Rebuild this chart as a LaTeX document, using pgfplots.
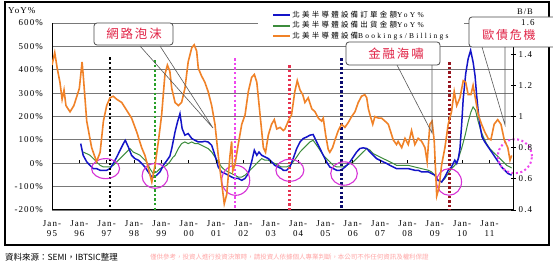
\documentclass[border=0pt]{standalone}
\usepackage{pgfplots}
\usepackage{pgfplotstable}
\pgfplotsset{compat=1.18}
\usepackage{fontspec}
\setmainfont{Liberation Serif}
\newfontfamily\tickfont[LetterSpace=12]{Liberation Serif}
\newfontfamily\cjk{Noto Sans CJK TC}
\newfontfamily\legcjk[LetterSpace=30]{Noto Sans CJK TC}
\newfontfamily\leglat[LetterSpace=30]{Liberation Serif}
\newfontfamily\callfont[LetterSpace=15]{Noto Sans CJK TC}
\definecolor{cblue}{RGB}{20,20,200}
\definecolor{cgreen}{RGB}{60,140,60}
\definecolor{corange}{RGB}{240,130,40}
\definecolor{cmag}{RGB}{215,50,215}
\definecolor{cred}{RGB}{225,35,70}
\definecolor{gridc}{RGB}{120,120,120}
\definecolor{cnavy}{RGB}{10,10,110}
\definecolor{cmaroon}{RGB}{150,20,30}
\definecolor{cdgreen}{RGB}{40,160,40}
\definecolor{cpink}{RGB}{238,70,238}
\definecolor{cdred}{RGB}{230,50,80}

\pgfplotstableread{
x y
1.05 84
1.14 34
1.27 6
1.39 -9
1.51 -23
1.63 -23
1.76 -30
1.88 -30
2.00 -30
2.12 -23
2.24 -1
2.37 27
2.49 56
2.61 84
2.68 98
2.79 70
2.91 34
3.03 20
3.16 13
3.28 -1
3.40 -16
3.52 -37
3.65 -59
3.73 -59
3.83 -51
3.95 -37
4.07 -9
4.19 10
4.31 30
4.38 63
4.50 134
4.59 177
4.68 212
4.76 148
4.86 120
4.98 127
5.11 106
5.23 98
5.35 91
5.47 91
5.59 94
5.71 91
5.84 77
5.96 34
6.08 -16
6.20 -37
6.33 -44
6.45 -51
6.57 -59
6.69 -65
6.81 -65
6.94 -73
7.06 -65
7.18 -44
7.30 6
7.40 56
7.49 34
7.57 48
7.67 34
7.79 27
7.91 20
8.03 6
8.15 -9
8.27 -16
8.39 -23
8.46 -30
8.58 -30
8.70 -16
8.82 20
8.95 63
9.07 91
9.19 106
9.31 112
9.43 120
9.55 123
9.68 91
9.80 63
9.92 34
10.04 6
10.16 -16
10.29 -23
10.41 -30
10.53 -30
10.65 -23
10.78 -9
10.90 6
11.02 27
11.14 48
11.26 63
11.38 66
11.51 63
11.63 48
11.75 34
11.87 20
11.99 13
12.11 6
12.24 -1
12.36 -9
12.48 -16
12.60 -23
12.79 -23
13.03 -23
13.27 -30
13.39 -30
13.52 -37
13.76 -37
13.88 -44
14.00 -51
14.12 -73
14.25 -80
14.37 -59
14.49 -30
14.61 -16
14.73 13
14.80 -1
14.86 20
14.92 63
14.98 162
15.04 277
15.13 383
15.22 447
15.31 483
15.40 433
15.47 376
15.53 291
15.59 219
15.65 162
15.73 112
15.83 91
15.95 70
16.08 48
16.20 27
16.32 6
16.44 -16
16.56 -30
16.68 -44
16.81 -51
}\orders

\pgfplotstableread{
x y
1.14 48
1.27 41
1.39 34
1.51 20
1.63 6
1.76 -9
1.88 -16
2.00 -16
2.12 -16
2.24 -9
2.37 6
2.49 20
2.61 34
2.73 48
2.85 63
2.97 48
3.10 41
3.22 34
3.34 20
3.46 6
3.58 -23
3.70 -44
3.83 -37
3.95 -23
4.07 -16
4.19 -9
4.31 6
4.42 25
4.50 34
4.62 63
4.74 84
4.86 91
4.98 84
5.11 91
5.23 84
5.35 84
5.47 77
5.59 70
5.71 63
5.84 48
5.96 27
6.08 6
6.20 -16
6.33 -30
6.45 -37
6.57 -44
6.69 -51
6.81 -59
6.94 -59
7.06 -51
7.18 -37
7.30 -23
7.42 -9
7.54 6
7.67 20
7.79 13
7.91 13
8.03 6
8.15 -1
8.27 -9
8.39 -16
8.58 -16
8.70 -9
8.82 6
8.95 27
9.07 48
9.19 63
9.31 77
9.43 91
9.55 98
9.68 77
9.80 56
9.92 34
10.04 20
10.16 6
10.29 -9
10.41 -16
10.65 -16
10.78 -9
10.90 -1
11.02 6
11.14 20
11.26 34
11.38 48
11.51 63
11.63 56
11.75 41
11.87 34
11.99 27
12.11 20
12.24 13
12.36 6
12.48 -1
12.60 -9
12.79 -9
13.03 -9
13.27 -16
13.52 -23
13.76 -30
13.88 -37
14.00 -51
14.12 -73
14.25 -80
14.37 -65
14.49 -44
14.61 -23
14.73 -9
14.86 20
14.98 63
15.11 120
15.22 177
15.32 219
15.40 241
15.49 226
15.59 177
15.70 134
15.80 106
15.89 84
16.01 63
16.13 48
16.26 34
16.38 20
16.50 6
16.63 -9
16.75 -16
16.81 -20
}\shipments

\pgfplotstableread{
x y
0.00 1.33
0.10 1.41
0.19 1.31
0.29 1.22
0.37 1.11
0.44 1.17
0.51 1.07
0.66 1.03
0.80 1.07
1.00 1.18
1.10 1.35
1.14 1.27
1.27 0.97
1.45 0.80
1.63 0.71
1.76 0.77
1.88 0.97
2.00 1.07
2.12 1.12
2.24 1.13
2.37 1.11
2.55 1.09
2.73 1.04
2.91 0.99
3.10 0.90
3.28 0.80
3.40 0.75
3.52 0.67
3.65 0.58
3.77 0.69
3.89 0.84
4.01 1.01
4.13 1.27
4.22 1.33
4.31 1.29
4.38 1.18
4.50 1.09
4.62 1.07
4.74 1.09
4.86 1.18
4.98 1.35
5.11 1.44
5.20 1.46
5.29 1.42
5.35 1.31
5.47 1.26
5.59 1.22
5.71 1.16
5.84 1.07
5.96 0.95
6.08 0.75
6.20 0.58
6.30 0.44
6.39 0.50
6.51 0.75
6.57 0.84
6.61 0.65
6.69 0.69
6.81 0.82
6.94 0.95
7.06 1.01
7.18 1.16
7.30 1.25
7.40 1.27
7.49 1.22
7.61 1.01
7.73 0.80
7.81 0.77
7.91 0.88
8.03 0.95
8.13 0.98
8.22 0.92
8.34 0.93
8.46 0.91
8.52 0.92
8.64 0.97
8.76 1.01
8.88 1.16
8.97 1.23
9.07 1.17
9.17 1.14
9.25 1.09
9.37 1.12
9.50 1.05
9.62 1.03
9.74 0.99
9.86 0.97
9.92 0.99
10.01 0.88
10.10 0.79
10.16 0.77
10.26 0.80
10.35 0.85
10.47 0.91
10.59 0.95
10.71 0.93
10.83 0.96
10.96 1.00
11.08 1.03
11.20 1.09
11.32 1.13
11.44 1.14
11.51 1.12
11.57 1.05
11.63 1.01
11.73 0.95
11.81 1.00
11.93 0.99
12.05 0.99
12.18 0.97
12.30 0.95
12.48 0.85
12.60 0.82
12.66 0.84
12.79 0.80
12.91 0.86
13.03 0.82
13.15 0.91
13.27 0.82
13.39 0.86
13.52 0.84
13.64 0.80
13.72 0.71
13.82 0.95
13.90 0.97
13.98 0.84
14.07 0.49
14.15 0.54
14.25 0.69
14.37 0.80
14.49 0.95
14.61 1.03
14.71 1.16
14.80 1.07
14.92 1.12
15.04 1.23
15.13 1.22
15.22 1.14
15.32 1.14
15.40 1.20
15.59 1.01
15.71 0.95
15.83 0.90
15.95 0.86
16.05 0.85
16.17 0.95
16.30 0.98
16.42 0.95
16.54 0.85
16.67 0.80
16.75 0.72
16.81 0.75
}\bookbill

\begin{document}
\begin{tikzpicture}
\useasboundingbox (0,0) rectangle (553bp,266bp);
\fill[white] (0,0) rectangle (553bp,266bp);
\draw[line width=2bp] (5bp,21bp) rectangle (549bp,264bp);

\begin{axis}[
  at={(52bp,56bp)}, anchor=south west,
  scale only axis, width=461bp, height=187bp,
  xmin=0, xmax=16.86, ymin=-200, ymax=600,
  clip=false,
  axis x line*=bottom, axis y line*=left,
  axis line style={-, black, line width=1bp},
  ytick={-200,-100,0,100,200,300,400,500,600},
  yticklabels={-200\%,-100\%,0\%,100\%,200\%,300\%,400\%,500\%,600\%},
  ymajorgrids, major grid style={gridc, line width=0.9bp},
  ytick style={draw=none},
  xtick={0,1,...,16},
  xticklabels={{Jan-\\95},{Jan-\\96},{Jan-\\97},{Jan-\\98},{Jan-\\99},{Jan-\\00},{Jan-\\01},{Jan-\\02},{Jan-\\03},{Jan-\\04},{Jan-\\05},{Jan-\\06},{Jan-\\07},{Jan-\\08},{Jan-\\09},{Jan-\\10},{Jan-\\11}},
  xtick style={draw=none},
  xticklabel style={align=center, font=\tickfont\fontsize{9}{10.5}\selectfont, inner sep=0pt, yshift=-10bp},
  yticklabel style={font=\tickfont\fontsize{9}{10}\selectfont, inner sep=0pt, xshift=-9bp},
]
\addplot[cgreen, line width=1bp] table[x=x,y=y] {\shipments};
\addplot[cblue, line width=1.5bp] table[x=x,y=y] {\orders};
\pgfplotsinvokeforeach{1,...,16}{\draw[black, line width=0.8bp] (axis cs:#1,0) -- ++(0pt,3bp);}
% event lines
\draw[black, line width=2.8bp, dash pattern=on 2.3bp off 2.3bp] (axis cs:2.12,453) -- (axis cs:2.12,-200);
\draw[cdgreen, line width=2.8bp, dash pattern=on 2.3bp off 2.3bp] (axis cs:3.77,440) -- (axis cs:3.77,-200);
\draw[cpink, line width=2.8bp, dash pattern=on 2.3bp off 2.3bp] (axis cs:6.69,449) -- (axis cs:6.69,-200);
\draw[cdred, line width=2.8bp, dash pattern=on 2.3bp off 2.3bp] (axis cs:8.68,419) -- (axis cs:8.68,-210);
\draw[cnavy, line width=2.8bp, dash pattern=on 2.3bp off 2.3bp] (axis cs:10.59,449) -- (axis cs:10.59,-200);
\draw[cmaroon, line width=2.8bp, dash pattern=on 2.3bp off 2.3bp] (axis cs:14.53,432) -- (axis cs:14.53,-200);
% troughs
\draw[cmag, line width=1.1bp] (axis cs:1.96,-23) ellipse [x radius=14bp, y radius=10bp];
\draw[cmag, line width=1.1bp] (axis cs:3.77,-54) ellipse [x radius=13bp, y radius=12.5bp];
\draw[cmag, line width=1.1bp] (axis cs:6.72,-73) ellipse [x radius=14bp, y radius=15bp];
\draw[cmag, line width=1.1bp] (axis cs:8.70,-30) ellipse [x radius=14bp, y radius=11bp];
\draw[cmag, line width=1.1bp] (axis cs:10.68,-44) ellipse [x radius=13.3bp, y radius=11.7bp];
\draw[cmag, line width=1.1bp] (axis cs:14.52,-80) ellipse [x radius=12.5bp, y radius=13.3bp];
\draw[cpink, line width=2bp, dash pattern=on 2bp off 2.5bp] (axis cs:16.93,30) circle [radius=17bp];
\end{axis}

\begin{axis}[
  at={(52bp,56bp)}, anchor=south west,
  scale only axis, width=461bp, height=187bp,
  xmin=0, xmax=16.86, ymin=0.4, ymax=1.6,
  axis x line=none, axis y line*=right,
  axis line style={-, black, line width=1bp},
  ytick={0.4,0.6,0.8,1,1.2,1.4,1.6},
  yticklabels={0.4,0.6,0.8,1,1.2,1.4,{}},
  ytick style={black, line width=0.8bp}, tick align=center, major tick length=5bp,
  yticklabel style={font=\tickfont\fontsize{9}{10}\selectfont, inner sep=0pt, anchor=west, xshift=3bp},
  legend cell align=left,
  legend image code/.code={\draw[#1] (0bp,0bp) -- (17bp,0bp);},
  legend style={at={(0.447,1.075)}, anchor=north west, draw=none, fill=white,
    inner xsep=14bp, inner ysep=1bp, font=\fontsize{7.5}{8}\selectfont,
    row sep=0pt, nodes={inner sep=1.2bp}},
]
\addlegendimage{cblue, line width=2bp}
\addlegendentry{{\legcjk 北美半導體設備訂單金額}{\leglat YoY\%}}
\addlegendimage{cgreen, line width=2bp}
\addlegendentry{{\legcjk 北美半導體設備出貨金額}{\leglat YoY\%}}
\addplot[corange, line width=1.6bp] table[x=x,y=y] {\bookbill};
\addlegendentry{{\legcjk 北美半導體設備}{\leglat Bookings/Billings}}
\end{axis}

% axis titles
\node[anchor=west, inner sep=0pt, font=\tickfont\fontsize{9}{10}\selectfont] at (8bp,255bp) {YoY\%};
\node[anchor=west, inner sep=0pt, font=\tickfont\fontsize{8.5}{9}\selectfont] at (517bp,254bp) {B/B};

% callouts
\draw[black!65, line width=0.6bp] (140bp,220bp) -- (213bp,138bp) -- (160bp,220bp);
\draw[black!70, line width=0.8bp, fill=white, rounded corners=3bp] (94bp,243bp) rectangle (173bp,221bp);
\node[text=cred, inner sep=0pt, font=\callfont\fontsize{12.5}{13}\selectfont] at (134bp,232bp) {網路泡沫};

\draw[black!65, line width=0.6bp] (397bp,201bp) -- (432bp,133bp) -- (432bp,201bp);
\draw[black!70, line width=0.8bp, fill=white, rounded corners=3bp] (346bp,224bp) rectangle (440bp,201bp);
\node[text=cred, inner sep=0pt, font=\callfont\fontsize{12.5}{13}\selectfont] at (396bp,212.5bp) {金融海嘯};

\draw[black!65, line width=0.6bp] (482bp,219bp) -- (505bp,141bp) -- (505bp,221bp);
\draw[black!70, line width=0.8bp, fill=white, rounded corners=3bp] (469bp,249bp) rectangle (556bp,219bp);
\node[text=cred, inner sep=0pt, font=\callfont\fontsize{12}{12.5}\selectfont] at (509bp,231bp) {歐債危機};
\node[anchor=west, inner sep=0pt, font=\tickfont\fontsize{9}{10}\selectfont] at (521bp,243bp) {1.6};

% source
\node[anchor=west, inner sep=0pt, font=\cjk\fontsize{8.5}{9}\selectfont] at (5bp,9bp) {資料來源：SEMI，IBTSIC整理};
\node[anchor=west, inner sep=0pt, text=red!35, font=\cjk\fontsize{6.5}{7}\selectfont] at (150bp,9bp) {僅供參考，投資人進行投資決策時，請投資人依據個人專業判斷，本公司不作任何資訊及權利保證};
\end{tikzpicture}
\end{document}
